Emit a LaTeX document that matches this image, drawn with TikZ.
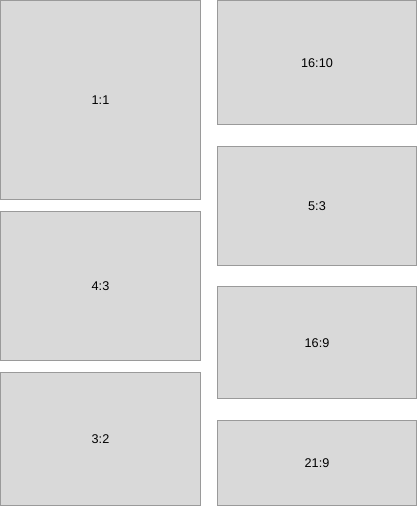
\documentclass[tikz,border=0pt]{standalone}
\usepackage{fontspec}
\setmainfont{Liberation Sans}
\usetikzlibrary{positioning}
\definecolor{boxfill}{HTML}{D9D9D9}
\definecolor{boxline}{HTML}{9A9A9A}
\tikzset{
    ratiobox/.style={
        rectangle,
        draw=boxline, fill=boxfill,
        line width=0.75pt,
        outer sep=0pt,
        minimum width=149.25pt,
        font=\fontsize{9.5}{11}\selectfont,
        text centered
    },
    leftbox/.style={ratiobox, minimum width=150pt},
    leftgap/.style={below=9pt of #1},
    rightgap/.style={below=16pt of #1}
}
\begin{document}
\begin{tikzpicture}[x=0.75pt, y=0.75pt]
    \useasboundingbox (0,0) rectangle (417,-506);
    % left column
    \node[leftbox, minimum height=149.25pt, anchor=north west] (sq) at (0.5,-0.5) {1:1};
    \node[leftbox, minimum height=111.94pt, leftgap=sq] (four) {4:3};
    \node[leftbox, minimum height=99.5pt, leftgap=four] (three) {3:2};
    % right column
    \node[ratiobox, minimum height=93.28pt, anchor=north west] (sixteen) at (217.5,-0.5) {16:10};
    \node[ratiobox, minimum height=89.55pt, rightgap=sixteen] (five) {5:3};
    \node[ratiobox, minimum height=83.95pt, rightgap=five] (wide) {16:9};
    \node[ratiobox, minimum height=63.96pt, rightgap=wide] (ultra) {21:9};
\end{tikzpicture}
\end{document}
